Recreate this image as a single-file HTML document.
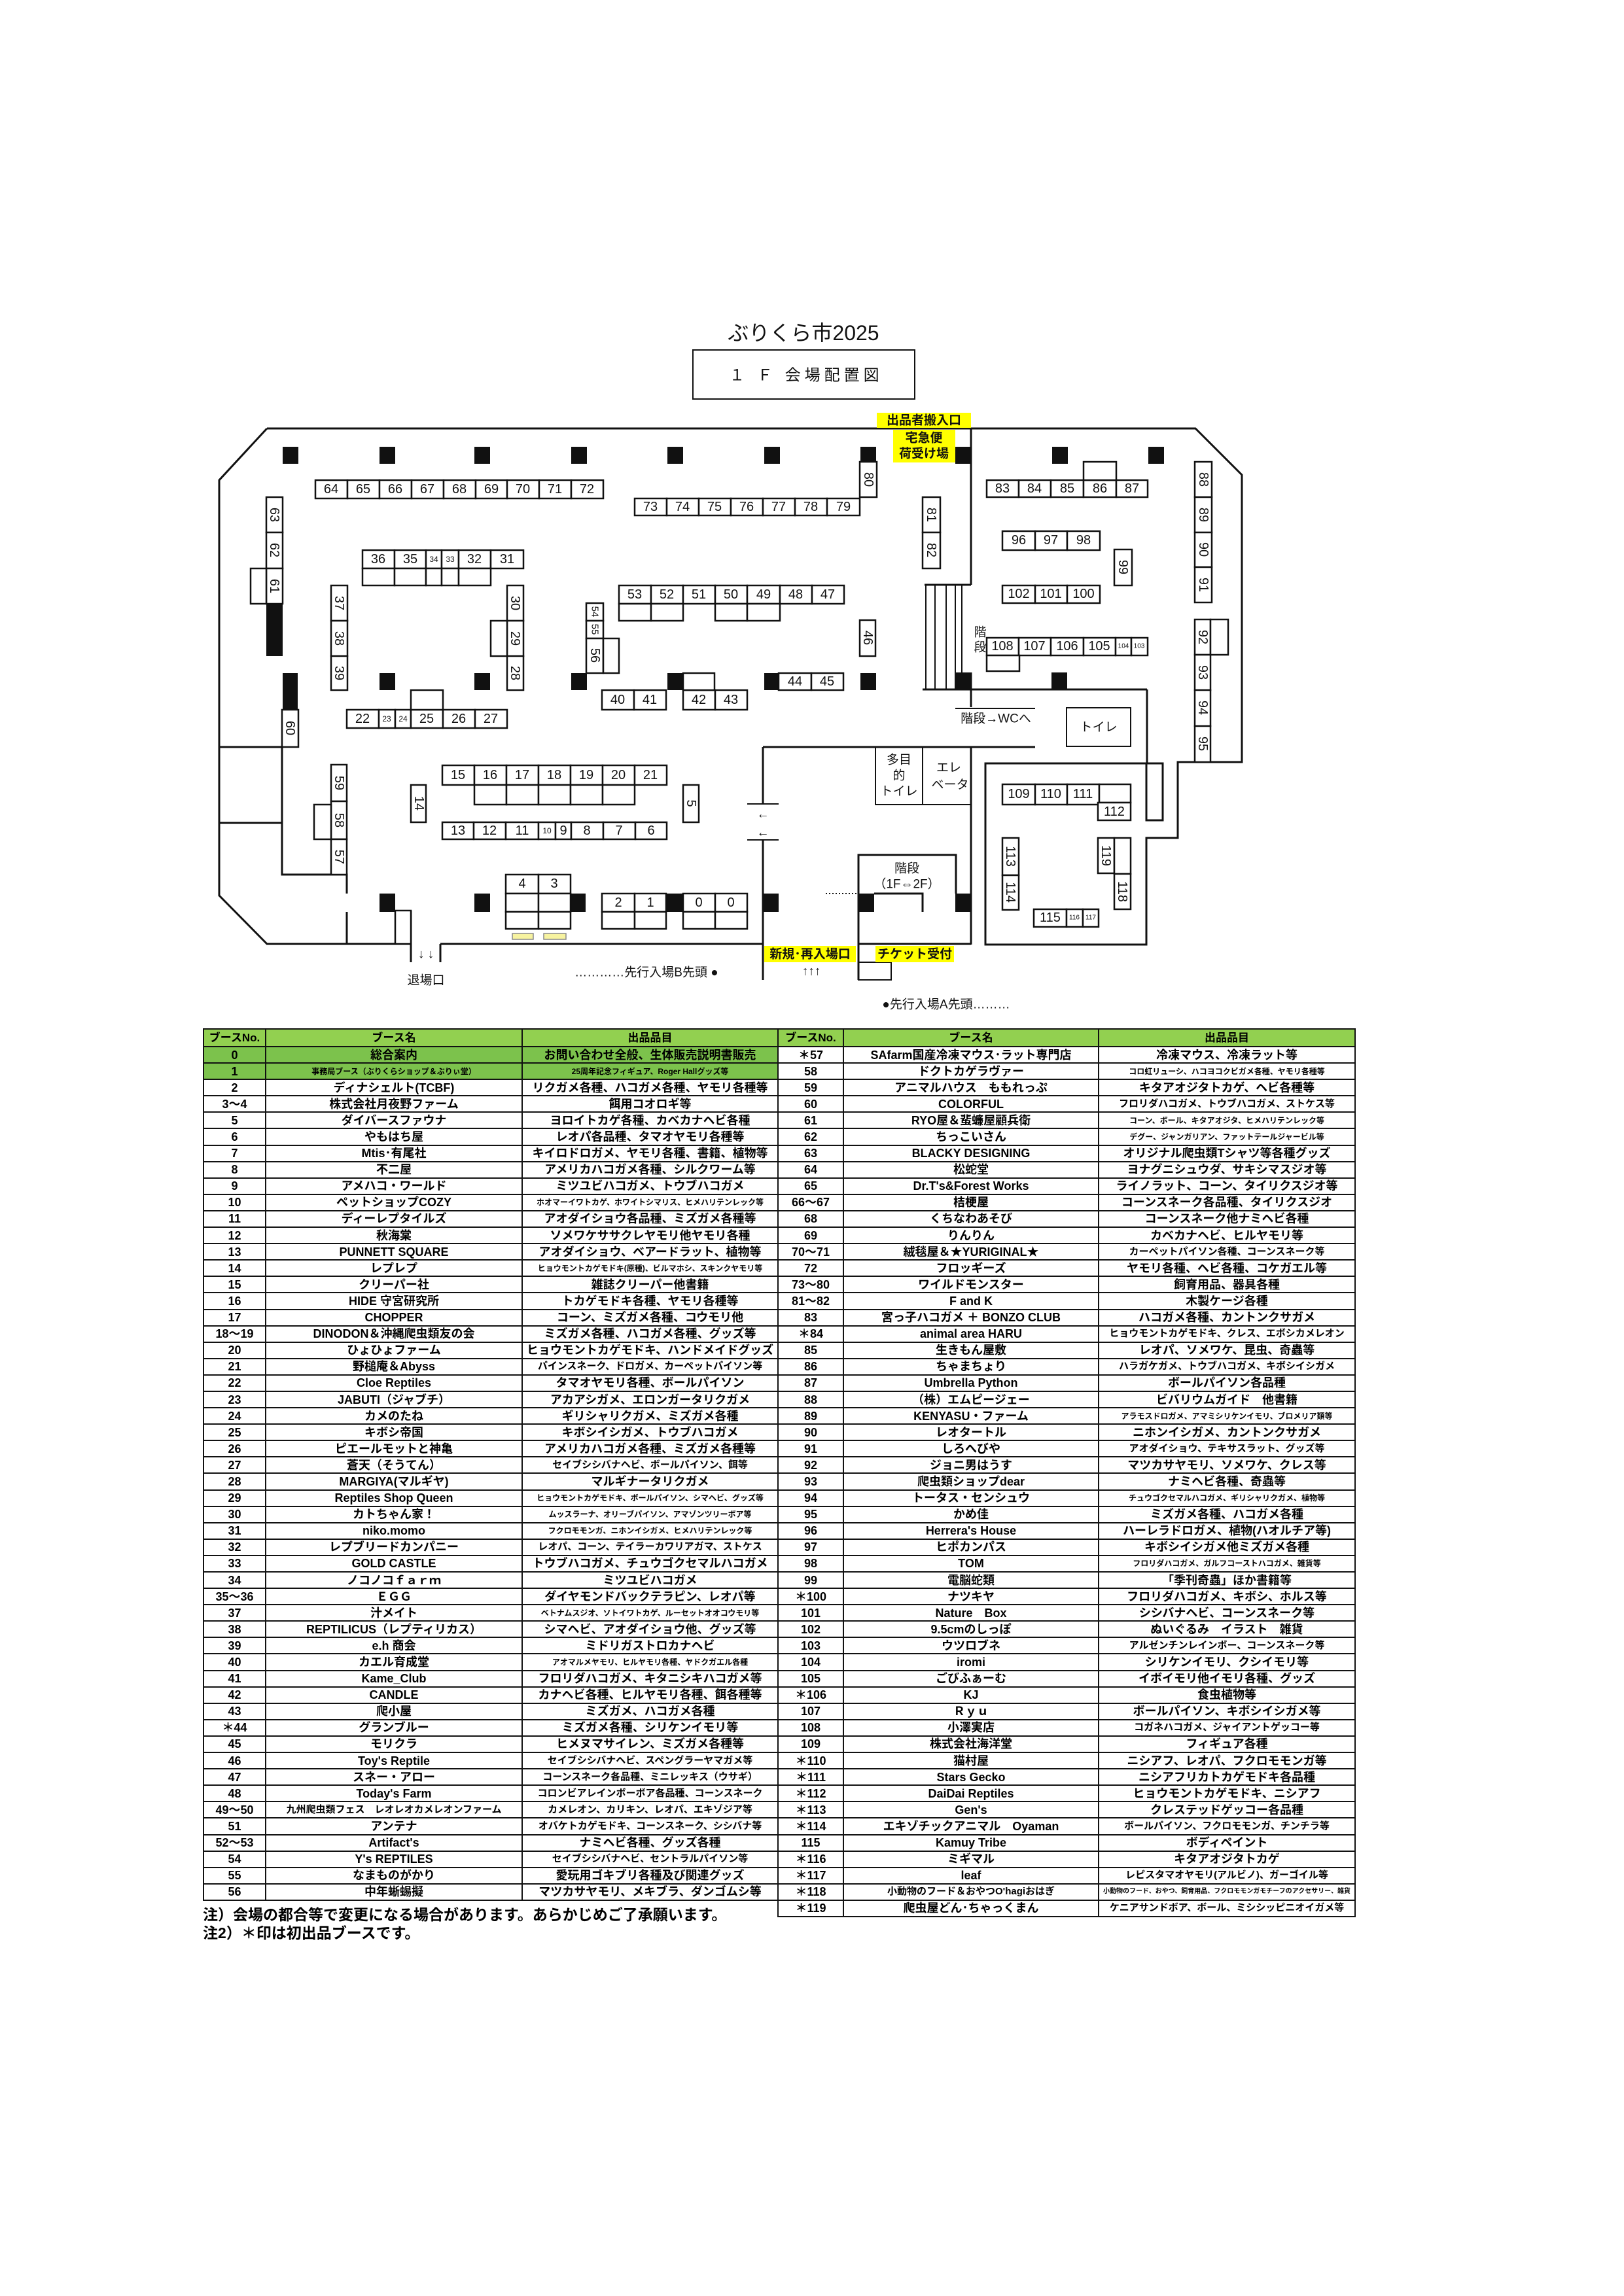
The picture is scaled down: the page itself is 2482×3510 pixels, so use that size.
<!DOCTYPE html>
<html><head><meta charset="utf-8"><style>
html,body{margin:0;padding:0;background:#fff}
body{width:2482px;height:3510px;position:relative;overflow:hidden;font-family:"Liberation Sans","Noto Sans CJK JP",sans-serif}
svg{position:absolute;left:0;top:0}
.w{fill:none;stroke:#111;stroke-width:3}
.t{fill:none;stroke:#111;stroke-width:2}
.b rect{fill:#fff;stroke:#111;stroke-width:2.5}
.p{fill:#111}
text{font-family:"Liberation Sans","Noto Sans CJK JP",sans-serif;fill:#111}
.n{font-size:20px;text-anchor:middle;dominant-baseline:central}
.sm{font-size:12px}
.y{fill:#ffff00}
.lb{font-size:19px;font-weight:bold;text-anchor:middle;dominant-baseline:central}
.tx{font-size:19px;text-anchor:middle;dominant-baseline:central}
table{position:absolute;border-collapse:collapse;table-layout:fixed;font-weight:bold}
td{border:2px solid #111;padding:0;height:21px;text-align:center;white-space:nowrap;overflow:hidden;font-size:18px;line-height:20px}
tr{height:25.1px}
tr.h{height:27px}
tr.h td{background:#92d050;font-size:17px}
tr.g td{background:#7cc24c}
.s{font-size:12px}
.m{font-size:15px}
.note{position:absolute;left:310px;font-size:23px;font-weight:bold;white-space:nowrap}
</style></head><body>
<svg width="2482" height="3510" viewBox="0 0 2482 3510">
<text x="1228" y="520" style="font-size:32px;text-anchor:middle">ぶりくら市2025</text>
<rect x="1059" y="535" width="339" height="75" class="t"/>
<text x="1232" y="574" style="font-size:24px;text-anchor:middle;dominant-baseline:central;letter-spacing:6px">１ Ｆ 会場配置図</text>

<!-- walls -->
<path class="w" d="M408,655 H1827 L1898,726 V1165 H1800 V1281 H1752 V1444 H1506 V1167 H1752"/>
<path class="w" d="M1753,1054 V1167 M1410,1054 H1753 M1484,655 V894 M1484,1028 V1081 M1413,894 H1484"/>
<path class="t" d="M1415,894 V1053 M1429,894 V1053 M1446,894 V1053 M1460,894 V1053 M1470,894 V1053"/>
<path class="w" d="M1484,1143 V1444 M1166,1142 H1582 M1312,1443 H1484"/>
<path class="t" d="M1460,1083 H1582"/>
<path class="w" d="M408,655 L335,734 V1369 L408,1443 H628 M673,1443 H1166 M1166,1142 V1229 M1166,1284 V1498"/>
<path class="w" d="M628,1392 V1471 M673,1443 V1471"/>
<path class="w" d="M335,1142 H431 M335,1258 H431 M431,1142 V1337 H530 V1366 M530,1394 V1443"/>
<path class="w" d="M1312,1498 V1307 H1461 V1366 M1336,1366 H1410 V1394"/>
<path class="t" d="M1142,1229 H1190 M1142,1284 H1190"/>
<path d="M1262,1366 H1312" stroke="#111" stroke-width="2" stroke-dasharray="2,3"/>
<text x="1166" y="1245" class="tx">←</text>
<text x="1166" y="1273" class="tx">←</text>
<rect x="1752" y="1167" width="25" height="87" class="w"/>
<rect x="1338" y="1142" width="72" height="88" class="t"/>
<rect x="1410" y="1142" width="74" height="88" class="t"/>
<text x="1374" y="1162" class="tx">多目</text><text x="1374" y="1186" class="tx">的</text><text x="1374" y="1210" class="tx">トイレ</text>
<text x="1450" y="1174" class="tx">エレ</text><text x="1452" y="1200" class="tx">ベータ</text>
<text x="1386" y="1328" class="tx">階段</text><text x="1386" y="1352" class="tx">（1F⇔2F）</text>
<rect x="1312" y="1471" width="50" height="27" class="t"/>
<rect x="1630" y="1082" width="98" height="59" class="t"/>
<text x="1679" y="1112" class="tx">トイレ</text>
<text x="1522" y="1099" class="tx">階段→WCへ</text>
<text x="1498" y="967" class="tx">階</text><text x="1498" y="990" class="tx">段</text>

<!-- pillars -->
<g class="p">
<rect x="432" y="683" width="24" height="26"/><rect x="580" y="683" width="24" height="26"/><rect x="725" y="683" width="24" height="26"/><rect x="873" y="683" width="24" height="26"/><rect x="1020" y="683" width="24" height="26"/><rect x="1168" y="683" width="24" height="26"/><rect x="1315" y="683" width="24" height="26"/><rect x="1460" y="683" width="24" height="26"/><rect x="1608" y="683" width="24" height="26"/><rect x="1755" y="683" width="24" height="26"/>
<rect x="580" y="1029" width="24" height="26"/><rect x="725" y="1029" width="24" height="26"/><rect x="873" y="1029" width="24" height="26"/><rect x="1020" y="1029" width="24" height="26"/><rect x="1168" y="1029" width="24" height="26"/><rect x="1315" y="1029" width="24" height="26"/><rect x="1460" y="1028" width="24" height="26"/><rect x="1607" y="1028" width="24" height="26"/>
<rect x="580" y="1366" width="24" height="28"/><rect x="725" y="1366" width="24" height="28"/><rect x="872" y="1366" width="23" height="28"/><rect x="1019" y="1366" width="25" height="28"/><rect x="1166" y="1366" width="24" height="28"/><rect x="1312" y="1366" width="24" height="28"/><rect x="1460" y="1366" width="24" height="28"/>
<rect x="407" y="923" width="25" height="80"/><rect x="432" y="1029" width="23" height="56"/>
</g>

<!-- yellow labels -->
<rect x="1340" y="631" width="144" height="23" class="y"/><text x="1412" y="643" class="lb">出品者搬入口</text>
<rect x="1365" y="657" width="95" height="50" class="y"/><text x="1412" y="670" class="lb">宅急便</text><text x="1412" y="694" class="lb">荷受け場</text>
<rect x="1168" y="1446" width="140" height="25" class="y"/><text x="1238" y="1459" class="lb">新規･再入場口</text>
<rect x="1338" y="1446" width="120" height="25" class="y"/><text x="1398" y="1459" class="lb">チケット受付</text>
<rect x="783" y="1427" width="32" height="9" fill="#f7f3a0" stroke="#888" stroke-width="1.5"/>
<rect x="831" y="1427" width="34" height="9" fill="#f7f3a0" stroke="#888" stroke-width="1.5"/>
<text x="1240" y="1485" class="tx">↑↑↑</text>
<text x="651" y="1459" class="tx">↓ ↓</text>
<text x="651" y="1499" class="tx">退場口</text>
<text x="988" y="1487" class="tx">…………先行入場B先頭 ●</text>
<text x="1446" y="1536" class="tx">●先行入場A先頭………</text>

<g class="b">
<!-- 64-72 -->
<rect x="482" y="734" width="49" height="28"/><rect x="531" y="734" width="49" height="28"/><rect x="580" y="734" width="49" height="28"/><rect x="629" y="734" width="49" height="28"/><rect x="678" y="734" width="49" height="28"/><rect x="727" y="734" width="48" height="28"/><rect x="775" y="734" width="49" height="28"/><rect x="824" y="734" width="49" height="28"/><rect x="873" y="734" width="49" height="28"/>
<!-- 73-79 -->
<rect x="970" y="762" width="49" height="26"/><rect x="1019" y="762" width="49" height="26"/><rect x="1068" y="762" width="49" height="26"/><rect x="1117" y="762" width="49" height="26"/><rect x="1166" y="762" width="49" height="26"/><rect x="1215" y="762" width="49" height="26"/><rect x="1264" y="762" width="50" height="26"/>
<rect x="1314" y="706" width="26" height="54"/>
<rect x="1410" y="760" width="27" height="54"/><rect x="1410" y="814" width="27" height="55"/>
<rect x="407" y="760" width="25" height="54"/><rect x="407" y="814" width="25" height="55"/><rect x="407" y="869" width="25" height="54"/><rect x="383" y="869" width="24" height="54"/>
<rect x="431" y="1085" width="25" height="57"/>
<!-- 36-31 -->
<rect x="554" y="841" width="49" height="28"/><rect x="603" y="841" width="48" height="28"/><rect x="651" y="841" width="24" height="28"/><rect x="675" y="841" width="26" height="28"/><rect x="701" y="841" width="49" height="28"/><rect x="750" y="841" width="50" height="28"/>
<rect x="554" y="869" width="49" height="26"/><rect x="603" y="869" width="48" height="26"/><rect x="651" y="869" width="24" height="26"/><rect x="675" y="869" width="26" height="26"/><rect x="701" y="869" width="49" height="26"/>
<rect x="506" y="895" width="25" height="54"/><rect x="506" y="949" width="25" height="54"/><rect x="506" y="1003" width="25" height="52"/>
<rect x="775" y="895" width="25" height="54"/><rect x="775" y="949" width="25" height="54"/><rect x="775" y="1003" width="25" height="52"/><rect x="750" y="949" width="25" height="54"/>
<!-- 22-27 -->
<rect x="530" y="1085" width="49" height="28"/><rect x="579" y="1085" width="25" height="28"/><rect x="604" y="1085" width="24" height="28"/><rect x="628" y="1085" width="49" height="28"/><rect x="677" y="1085" width="49" height="28"/><rect x="726" y="1085" width="49" height="28"/><rect x="628" y="1055" width="49" height="30"/>
<!-- 54-56 -->
<rect x="896" y="922" width="26" height="27"/><rect x="896" y="949" width="26" height="27"/><rect x="896" y="976" width="26" height="53"/><rect x="922" y="976" width="24" height="53"/>
<!-- 53-47 -->
<rect x="946" y="895" width="49" height="28"/><rect x="995" y="895" width="49" height="28"/><rect x="1044" y="895" width="49" height="28"/><rect x="1093" y="895" width="49" height="28"/><rect x="1142" y="895" width="50" height="28"/><rect x="1192" y="895" width="49" height="28"/><rect x="1241" y="895" width="49" height="28"/>
<rect x="946" y="923" width="49" height="26"/><rect x="995" y="923" width="49" height="26"/><rect x="1093" y="923" width="49" height="26"/><rect x="1142" y="923" width="50" height="26"/>
<rect x="1314" y="948" width="24" height="55"/>
<rect x="920" y="1055" width="49" height="30"/><rect x="969" y="1055" width="49" height="30"/><rect x="1044" y="1055" width="49" height="30"/><rect x="1093" y="1055" width="49" height="30"/><rect x="1044" y="1029" width="48" height="26"/>
<rect x="1190" y="1029" width="50" height="26"/><rect x="1240" y="1029" width="49" height="26"/>
<!-- 59-57 -->
<rect x="506" y="1169" width="24" height="56"/><rect x="506" y="1225" width="24" height="58"/><rect x="506" y="1283" width="24" height="54"/><rect x="480" y="1230" width="26" height="53"/>
<!-- 15-21 -->
<rect x="676" y="1170" width="49" height="30"/><rect x="725" y="1170" width="49" height="30"/><rect x="774" y="1170" width="49" height="30"/><rect x="823" y="1170" width="49" height="30"/><rect x="872" y="1170" width="49" height="30"/><rect x="921" y="1170" width="49" height="30"/><rect x="970" y="1170" width="49" height="30"/>
<rect x="725" y="1200" width="49" height="30"/><rect x="774" y="1200" width="49" height="30"/><rect x="823" y="1200" width="49" height="30"/><rect x="872" y="1200" width="49" height="30"/><rect x="921" y="1200" width="49" height="30"/>
<rect x="628" y="1200" width="23" height="57"/><rect x="1044" y="1200" width="24" height="57"/>
<!-- 13-6 -->
<rect x="676" y="1257" width="48" height="26"/><rect x="724" y="1257" width="49" height="26"/><rect x="773" y="1257" width="50" height="26"/><rect x="823" y="1257" width="26" height="26"/><rect x="849" y="1257" width="24" height="26"/><rect x="873" y="1257" width="49" height="26"/><rect x="922" y="1257" width="49" height="26"/><rect x="971" y="1257" width="48" height="26"/>
<!-- 4,3 -->
<rect x="773" y="1337" width="50" height="29"/><rect x="823" y="1337" width="49" height="29"/><rect x="773" y="1366" width="50" height="28"/><rect x="823" y="1366" width="49" height="28"/><rect x="773" y="1394" width="50" height="26"/><rect x="823" y="1394" width="49" height="26"/>
<!-- 2,1,0,0 -->
<rect x="920" y="1366" width="50" height="28"/><rect x="970" y="1366" width="48" height="28"/><rect x="1044" y="1366" width="49" height="28"/><rect x="1093" y="1366" width="49" height="28"/>
<rect x="920" y="1394" width="50" height="26"/><rect x="970" y="1394" width="48" height="26"/><rect x="1044" y="1394" width="49" height="26"/><rect x="1093" y="1394" width="49" height="26"/>
<rect x="604" y="1392" width="24" height="51"/>
<!-- right area -->
<rect x="1508" y="734" width="49" height="26"/><rect x="1557" y="734" width="49" height="26"/><rect x="1606" y="734" width="50" height="26"/><rect x="1656" y="734" width="50" height="26"/><rect x="1706" y="734" width="48" height="26"/><rect x="1656" y="706" width="50" height="28"/>
<rect x="1826" y="706" width="26" height="54"/><rect x="1826" y="760" width="26" height="54"/><rect x="1826" y="814" width="26" height="53"/><rect x="1826" y="867" width="26" height="54"/>
<rect x="1532" y="812" width="50" height="29"/><rect x="1582" y="812" width="49" height="29"/><rect x="1631" y="812" width="50" height="29"/>
<rect x="1703" y="840" width="27" height="55"/>
<rect x="1532" y="895" width="50" height="27"/><rect x="1582" y="895" width="49" height="27"/><rect x="1631" y="895" width="50" height="27"/>
<rect x="1508" y="975" width="49" height="27"/><rect x="1557" y="975" width="49" height="27"/><rect x="1606" y="975" width="50" height="27"/><rect x="1656" y="975" width="49" height="27"/><rect x="1705" y="975" width="24" height="27"/><rect x="1729" y="975" width="25" height="27"/>
<rect x="1508" y="1002" width="50" height="24"/>
<rect x="1826" y="947" width="24" height="54"/><rect x="1826" y="1001" width="24" height="54"/><rect x="1826" y="1055" width="24" height="55"/><rect x="1826" y="1110" width="24" height="55"/><rect x="1850" y="947" width="27" height="54"/>
<rect x="1532" y="1199" width="50" height="31"/><rect x="1582" y="1199" width="49" height="31"/><rect x="1631" y="1199" width="49" height="31"/><rect x="1680" y="1199" width="48" height="28"/><rect x="1678" y="1227" width="50" height="27"/>
<rect x="1532" y="1281" width="25" height="57"/><rect x="1532" y="1338" width="25" height="53"/>
<rect x="1678" y="1281" width="25" height="54"/><rect x="1703" y="1281" width="25" height="55"/><rect x="1703" y="1336" width="25" height="54"/>
<rect x="1580" y="1390" width="50" height="27"/><rect x="1630" y="1390" width="25" height="27"/><rect x="1655" y="1390" width="24" height="27"/>
</g>

<g class="n">
<text x="506" y="748">64</text><text x="555" y="748">65</text><text x="604" y="748">66</text><text x="653" y="748">67</text><text x="702" y="748">68</text><text x="751" y="748">69</text><text x="799" y="748">70</text><text x="848" y="748">71</text><text x="897" y="748">72</text>
<text x="994" y="775">73</text><text x="1043" y="775">74</text><text x="1092" y="775">75</text><text x="1141" y="775">76</text><text x="1190" y="775">77</text><text x="1239" y="775">78</text><text x="1289" y="775">79</text>
<text transform="translate(1327,733) rotate(90)">80</text>
<text transform="translate(1423,787) rotate(90)">81</text><text transform="translate(1423,841) rotate(90)">82</text>
<text transform="translate(419,787) rotate(90)">63</text><text transform="translate(419,841) rotate(90)">62</text><text transform="translate(419,896) rotate(90)">61</text>
<text transform="translate(443,1113) rotate(90)">60</text>
<text x="578" y="855">36</text><text x="627" y="855">35</text><text x="663" y="855" class="sm">34</text><text x="688" y="855" class="sm">33</text><text x="725" y="855">32</text><text x="775" y="855">31</text>
<text transform="translate(518,922) rotate(90)">37</text><text transform="translate(518,976) rotate(90)">38</text><text transform="translate(518,1029) rotate(90)">39</text>
<text transform="translate(787,922) rotate(90)">30</text><text transform="translate(787,976) rotate(90)">29</text><text transform="translate(787,1029) rotate(90)">28</text>
<text x="554" y="1099">22</text><text x="591" y="1099" class="sm">23</text><text x="616" y="1099" class="sm">24</text><text x="652" y="1099">25</text><text x="701" y="1099">26</text><text x="750" y="1099">27</text>
<text transform="translate(909,935) rotate(90)" style="font-size:15px">54</text><text transform="translate(909,962) rotate(90)" style="font-size:15px">55</text><text transform="translate(909,1002) rotate(90)">56</text>
<text x="970" y="909">53</text><text x="1019" y="909">52</text><text x="1068" y="909">51</text><text x="1117" y="909">50</text><text x="1167" y="909">49</text><text x="1216" y="909">48</text><text x="1265" y="909">47</text>
<text transform="translate(1326,975) rotate(90)">46</text>
<text x="944" y="1070">40</text><text x="993" y="1070">41</text><text x="1068" y="1070">42</text><text x="1117" y="1070">43</text>
<text x="1215" y="1042">44</text><text x="1264" y="1042">45</text>
<text transform="translate(518,1197) rotate(90)">59</text><text transform="translate(518,1254) rotate(90)">58</text><text transform="translate(518,1310) rotate(90)">57</text>
<text x="700" y="1185">15</text><text x="749" y="1185">16</text><text x="798" y="1185">17</text><text x="847" y="1185">18</text><text x="896" y="1185">19</text><text x="945" y="1185">20</text><text x="994" y="1185">21</text>
<text transform="translate(640,1228) rotate(90)">14</text><text transform="translate(1056,1228) rotate(90)">5</text>
<text x="700" y="1270">13</text><text x="748" y="1270">12</text><text x="798" y="1270">11</text><text x="836" y="1270" class="sm">10</text><text x="861" y="1270">9</text><text x="897" y="1270">8</text><text x="946" y="1270">7</text><text x="995" y="1270">6</text>
<text x="798" y="1351">4</text><text x="847" y="1351">3</text>
<text x="945" y="1380">2</text><text x="994" y="1380">1</text><text x="1068" y="1380">0</text><text x="1117" y="1380">0</text>
<text x="1532" y="747">83</text><text x="1581" y="747">84</text><text x="1631" y="747">85</text><text x="1681" y="747">86</text><text x="1730" y="747">87</text>
<text transform="translate(1839,733) rotate(90)">88</text><text transform="translate(1839,787) rotate(90)">89</text><text transform="translate(1839,840) rotate(90)">90</text><text transform="translate(1839,894) rotate(90)">91</text>
<text x="1557" y="826">96</text><text x="1606" y="826">97</text><text x="1656" y="826">98</text>
<text transform="translate(1716,867) rotate(90)">99</text>
<text x="1557" y="908">102</text><text x="1606" y="908">101</text><text x="1656" y="908">100</text>
<text x="1532" y="988">108</text><text x="1581" y="988">107</text><text x="1631" y="988">106</text><text x="1680" y="988">105</text><text x="1717" y="988" style="font-size:10px">104</text><text x="1741" y="988" style="font-size:10px">103</text>
<text transform="translate(1838,974) rotate(90)">92</text><text transform="translate(1838,1028) rotate(90)">93</text><text transform="translate(1838,1082) rotate(90)">94</text><text transform="translate(1838,1137) rotate(90)">95</text>
<text x="1557" y="1214">109</text><text x="1606" y="1214">110</text><text x="1655" y="1214">111</text><text x="1703" y="1241">112</text>
<text transform="translate(1544,1309) rotate(90)">113</text><text transform="translate(1544,1364) rotate(90)">114</text>
<text transform="translate(1690,1308) rotate(90)">119</text><text transform="translate(1715,1363) rotate(90)">118</text>
<text x="1605" y="1403">115</text><text x="1642" y="1403" style="font-size:10px">116</text><text x="1667" y="1403" style="font-size:10px">117</text>
</g>
</svg>

<table style="left:310px;top:1572px;width:878px">
<colgroup><col style="width:95px"><col style="width:392px"><col style="width:391px"></colgroup>
<tr class="h"><td>ブースNo.</td><td>ブース名</td><td>出品品目</td></tr>
<tr class="g"><td>0</td><td>総合案内</td><td>お問い合わせ全般、生体販売説明書販売</td></tr>
<tr class="g"><td>1</td><td class="s">事務局ブース（ぶりくらショップ＆ぶりぃ堂）</td><td class="s">25周年記念フィギュア、Roger Hallグッズ等</td></tr>
<tr><td>2</td><td>ディナシェルト(TCBF)</td><td>リクガメ各種、ハコガメ各種、ヤモリ各種等</td></tr>
<tr><td>3～4</td><td>株式会社月夜野ファーム</td><td>餌用コオロギ等</td></tr>
<tr><td>5</td><td>ダイバースファウナ</td><td>ヨロイトカゲ各種、カベカナヘビ各種</td></tr>
<tr><td>6</td><td>やもはち屋</td><td>レオパ各品種、タマオヤモリ各種等</td></tr>
<tr><td>7</td><td>Mtis･有尾社</td><td>キイロドロガメ、ヤモリ各種、書籍、植物等</td></tr>
<tr><td>8</td><td>不二屋</td><td>アメリカハコガメ各種、シルクワーム等</td></tr>
<tr><td>9</td><td>アメハコ・ワールド</td><td>ミツユビハコガメ、トウブハコガメ</td></tr>
<tr><td>10</td><td>ペットショップCOZY</td><td class="s">ホオマーイワトカゲ、ホワイトシマリス、ヒメハリテンレック等</td></tr>
<tr><td>11</td><td>ディーレプタイルズ</td><td>アオダイショウ各品種、ミズガメ各種等</td></tr>
<tr><td>12</td><td>秋海棠</td><td>ソメワケササクレヤモリ他ヤモリ各種</td></tr>
<tr><td>13</td><td>PUNNETT SQUARE</td><td>アオダイショウ、ベアードラット、植物等</td></tr>
<tr><td>14</td><td>レプレプ</td><td class="s">ヒョウモントカゲモドキ(原種)、ビルマホシ、スキンクヤモリ等</td></tr>
<tr><td>15</td><td>クリーパー社</td><td>雑誌クリーパー他書籍</td></tr>
<tr><td>16</td><td>HIDE 守宮研究所</td><td>トカゲモドキ各種、ヤモリ各種等</td></tr>
<tr><td>17</td><td>CHOPPER</td><td>コーン、ミズガメ各種、コウモリ他</td></tr>
<tr><td>18～19</td><td>DINODON＆沖縄爬虫類友の会</td><td>ミズガメ各種、ハコガメ各種、グッズ等</td></tr>
<tr><td>20</td><td>ひょひょファーム</td><td>ヒョウモントカゲモドキ、ハンドメイドグッズ</td></tr>
<tr><td>21</td><td>野槌庵＆Abyss</td><td class="m">パインスネーク、ドロガメ、カーペットパイソン等</td></tr>
<tr><td>22</td><td>Cloe Reptiles</td><td>タマオヤモリ各種、ボールパイソン</td></tr>
<tr><td>23</td><td>JABUTI（ジャブチ）</td><td>アカアシガメ、エロンガータリクガメ</td></tr>
<tr><td>24</td><td>カメのたね</td><td>ギリシャリクガメ、ミズガメ各種</td></tr>
<tr><td>25</td><td>キボシ帝国</td><td>キボシイシガメ、トウブハコガメ</td></tr>
<tr><td>26</td><td>ピエールモットと神亀</td><td>アメリカハコガメ各種、ミズガメ各種等</td></tr>
<tr><td>27</td><td>蒼天（そうてん）</td><td class="m">セイブシシバナヘビ、ボールパイソン、餌等</td></tr>
<tr><td>28</td><td>MARGIYA(マルギヤ)</td><td>マルギナータリクガメ</td></tr>
<tr><td>29</td><td>Reptiles Shop Queen</td><td class="s">ヒョウモントカゲモドキ、ボールパイソン、シマヘビ、グッズ等</td></tr>
<tr><td>30</td><td>カトちゃん家！</td><td class="s">ムッスラーナ、オリーブパイソン、アマゾンツリーボア等</td></tr>
<tr><td>31</td><td>niko.momo</td><td class="s">フクロモモンガ、ニホンイシガメ、ヒメハリテンレック等</td></tr>
<tr><td>32</td><td>レプブリードカンパニー</td><td class="m">レオパ、コーン、テイラーカワリアガマ、ストケス</td></tr>
<tr><td>33</td><td>GOLD CASTLE</td><td>トウブハコガメ、チュウゴクセマルハコガメ</td></tr>
<tr><td>34</td><td>ノコノコｆａｒｍ</td><td>ミツユビハコガメ</td></tr>
<tr><td>35～36</td><td>ＥＧＧ</td><td>ダイヤモンドバックテラピン、レオパ等</td></tr>
<tr><td>37</td><td>汁メイト</td><td class="s">ベトナムスジオ、ソトイワトカゲ、ルーセットオオコウモリ等</td></tr>
<tr><td>38</td><td>REPTILICUS（レプティリカス）</td><td>シマヘビ、アオダイショウ他、グッズ等</td></tr>
<tr><td>39</td><td>e.h 商会</td><td>ミドリガストロカナヘビ</td></tr>
<tr><td>40</td><td>カエル育成堂</td><td class="s">アオマルメヤモリ、ヒルヤモリ各種、ヤドクガエル各種</td></tr>
<tr><td>41</td><td>Kame_Club</td><td>フロリダハコガメ、キタニシキハコガメ等</td></tr>
<tr><td>42</td><td>CANDLE</td><td>カナヘビ各種、ヒルヤモリ各種、餌各種等</td></tr>
<tr><td>43</td><td>爬小屋</td><td>ミズガメ、ハコガメ各種</td></tr>
<tr><td>＊44</td><td>グランブルー</td><td>ミズガメ各種、シリケンイモリ等</td></tr>
<tr><td>45</td><td>モリクラ</td><td>ヒメヌマサイレン、ミズガメ各種等</td></tr>
<tr><td>46</td><td>Toy's Reptile</td><td class="m">セイブシシバナヘビ、スペングラーヤマガメ等</td></tr>
<tr><td>47</td><td>スネー・アロー</td><td class="m">コーンスネーク各品種、ミニレッキス（ウサギ）</td></tr>
<tr><td>48</td><td>Today's Farm</td><td class="m">コロンビアレインボーボア各品種、コーンスネーク</td></tr>
<tr><td>49～50</td><td class="m">九州爬虫類フェス　レオレオカメレオンファーム</td><td class="m">カメレオン、カリキン、レオパ、エキゾジア等</td></tr>
<tr><td>51</td><td>アンテナ</td><td class="m">オバケトカゲモドキ、コーンスネーク、シシバナ等</td></tr>
<tr><td>52～53</td><td>Artifact's</td><td>ナミヘビ各種、グッズ各種</td></tr>
<tr><td>54</td><td>Y's REPTILES</td><td class="m">セイブシシバナヘビ、セントラルパイソン等</td></tr>
<tr><td>55</td><td>なまものがかり</td><td>愛玩用ゴキブリ各種及び関連グッズ</td></tr>
<tr><td>56</td><td>中年蜥蜴擬</td><td>マツカサヤモリ、メキブラ、ダンゴムシ等</td></tr>
</table>

<table style="left:1188px;top:1572px;width:882px">
<colgroup><col style="width:100px"><col style="width:390px"><col style="width:392px"></colgroup>
<tr class="h"><td>ブースNo.</td><td>ブース名</td><td>出品品目</td></tr>
<tr><td>＊57</td><td>SAfarm国産冷凍マウス･ラット専門店</td><td>冷凍マウス、冷凍ラット等</td></tr>
<tr><td>58</td><td>ドクトカゲラヴァー</td><td class="s">コロ虹リューシ、ハコヨコクビガメ各種、ヤモリ各種等</td></tr>
<tr><td>59</td><td>アニマルハウス　ももれっぷ</td><td>キタアオジタトカゲ、ヘビ各種等</td></tr>
<tr><td>60</td><td>COLORFUL</td><td class="m">フロリダハコガメ、トウブハコガメ、ストケス等</td></tr>
<tr><td>61</td><td>RYO屋＆蜚蠊屋顧兵衛</td><td class="s">コーン、ボール、キタアオジタ、ヒメハリテンレック等</td></tr>
<tr><td>62</td><td>ちっこいさん</td><td class="s">デグー、ジャンガリアン、ファットテールジャービル等</td></tr>
<tr><td>63</td><td>BLACKY DESIGNING</td><td>オリジナル爬虫類Tシャツ等各種グッズ</td></tr>
<tr><td>64</td><td>松蛇堂</td><td>ヨナグニシュウダ、サキシマスジオ等</td></tr>
<tr><td>65</td><td>Dr.T's&amp;Forest Works</td><td>ライノラット、コーン、タイリクスジオ等</td></tr>
<tr><td>66～67</td><td>桔梗屋</td><td>コーンスネーク各品種、タイリクスジオ</td></tr>
<tr><td>68</td><td>くちなわあそび</td><td>コーンスネーク他ナミヘビ各種</td></tr>
<tr><td>69</td><td>りんりん</td><td>カベカナヘビ、ヒルヤモリ等</td></tr>
<tr><td>70～71</td><td>絨毯屋＆★YURIGINAL★</td><td class="m">カーペットパイソン各種、コーンスネーク等</td></tr>
<tr><td>72</td><td>フロッギーズ</td><td>ヤモリ各種、ヘビ各種、コケガエル等</td></tr>
<tr><td>73～80</td><td>ワイルドモンスター</td><td>飼育用品、器具各種</td></tr>
<tr><td>81～82</td><td>F and K</td><td>木製ケージ各種</td></tr>
<tr><td>83</td><td>宮っ子ハコガメ ＋ BONZO CLUB</td><td>ハコガメ各種、カントンクサガメ</td></tr>
<tr><td>＊84</td><td>animal area HARU</td><td class="m">ヒョウモントカゲモドキ、クレス、エボシカメレオン</td></tr>
<tr><td>85</td><td>生きもん屋敷</td><td>レオパ、ソメワケ、昆虫、奇蟲等</td></tr>
<tr><td>86</td><td>ちゃまちょり</td><td class="m">ハラガケガメ、トウブハコガメ、キボシイシガメ</td></tr>
<tr><td>87</td><td>Umbrella Python</td><td>ボールパイソン各品種</td></tr>
<tr><td>88</td><td>（株）エムピージェー</td><td>ビバリウムガイド　他書籍</td></tr>
<tr><td>89</td><td>KENYASU・ファーム</td><td class="s">アラモスドロガメ、アマミシリケンイモリ、ブロメリア類等</td></tr>
<tr><td>90</td><td>レオタートル</td><td>ニホンイシガメ、カントンクサガメ</td></tr>
<tr><td>91</td><td>しろへびや</td><td class="m">アオダイショウ、テキサスラット、グッズ等</td></tr>
<tr><td>92</td><td>ジョニ男はうす</td><td>マツカサヤモリ、ソメワケ、クレス等</td></tr>
<tr><td>93</td><td>爬虫類ショップdear</td><td>ナミヘビ各種、奇蟲等</td></tr>
<tr><td>94</td><td>トータス・センシュウ</td><td class="s">チュウゴクセマルハコガメ、ギリシャリクガメ、植物等</td></tr>
<tr><td>95</td><td>かめ佳</td><td>ミズガメ各種、ハコガメ各種</td></tr>
<tr><td>96</td><td>Herrera's House</td><td>ハーレラドロガメ、植物(ハオルチア等)</td></tr>
<tr><td>97</td><td>ヒポカンパス</td><td>キボシイシガメ他ミズガメ各種</td></tr>
<tr><td>98</td><td>TOM</td><td class="s">フロリダハコガメ、ガルフコーストハコガメ、雑貨等</td></tr>
<tr><td>99</td><td>電脳蛇類</td><td>「季刊奇蟲」ほか書籍等</td></tr>
<tr><td>＊100</td><td>ナツキヤ</td><td>フロリダハコガメ、キボシ、ホルス等</td></tr>
<tr><td>101</td><td>Nature　Box</td><td>シシバナヘビ、コーンスネーク等</td></tr>
<tr><td>102</td><td>9.5cmのしっぽ</td><td>ぬいぐるみ　イラスト　雑貨</td></tr>
<tr><td>103</td><td>ウツロブネ</td><td class="m">アルゼンチンレインボー、コーンスネーク等</td></tr>
<tr><td>104</td><td>iromi</td><td>シリケンイモリ、クシイモリ等</td></tr>
<tr><td>105</td><td>ごびふぁーむ</td><td>イボイモリ他イモリ各種、グッズ</td></tr>
<tr><td>＊106</td><td>KJ</td><td>食虫植物等</td></tr>
<tr><td>107</td><td>Ｒｙｕ</td><td>ボールパイソン、キボシイシガメ等</td></tr>
<tr><td>108</td><td>小澤実店</td><td class="m">コガネハコガメ、ジャイアントゲッコー等</td></tr>
<tr><td>109</td><td>株式会社海洋堂</td><td>フィギュア各種</td></tr>
<tr><td>＊110</td><td>猫村屋</td><td>ニシアフ、レオパ、フクロモモンガ等</td></tr>
<tr><td>＊111</td><td>Stars Gecko</td><td>ニシアフリカトカゲモドキ各品種</td></tr>
<tr><td>＊112</td><td>DaiDai Reptiles</td><td>ヒョウモントカゲモドキ、ニシアフ</td></tr>
<tr><td>＊113</td><td>Gen's</td><td>クレステッドゲッコー各品種</td></tr>
<tr><td>＊114</td><td>エキゾチックアニマル　Oyaman</td><td class="m">ボールパイソン、フクロモモンガ、チンチラ等</td></tr>
<tr><td>115</td><td>Kamuy Tribe</td><td>ボディペイント</td></tr>
<tr><td>＊116</td><td>ミギマル</td><td>キタアオジタトカゲ</td></tr>
<tr><td>＊117</td><td>leaf</td><td class="m">レピスタマオヤモリ(アルビノ)、ガーゴイル等</td></tr>
<tr><td>＊118</td><td class="m">小動物のフード＆おやつO'hagiおはぎ</td><td style="font-size:10px">小動物のフード、おやつ、飼育用品、フクロモモンガモチーフのアクセサリー、雑貨</td></tr>
<tr><td>＊119</td><td>爬虫屋どん･ちゃっくまん</td><td class="m">ケニアサンドボア、ボール、ミシシッピニオイガメ等</td></tr>
</table>

<div class="note" style="top:2908px">注）会場の都合等で変更になる場合があります。あらかじめご了承願います。</div>
<div class="note" style="top:2936px">注2）＊印は初出品ブースです。</div>
</body></html>
